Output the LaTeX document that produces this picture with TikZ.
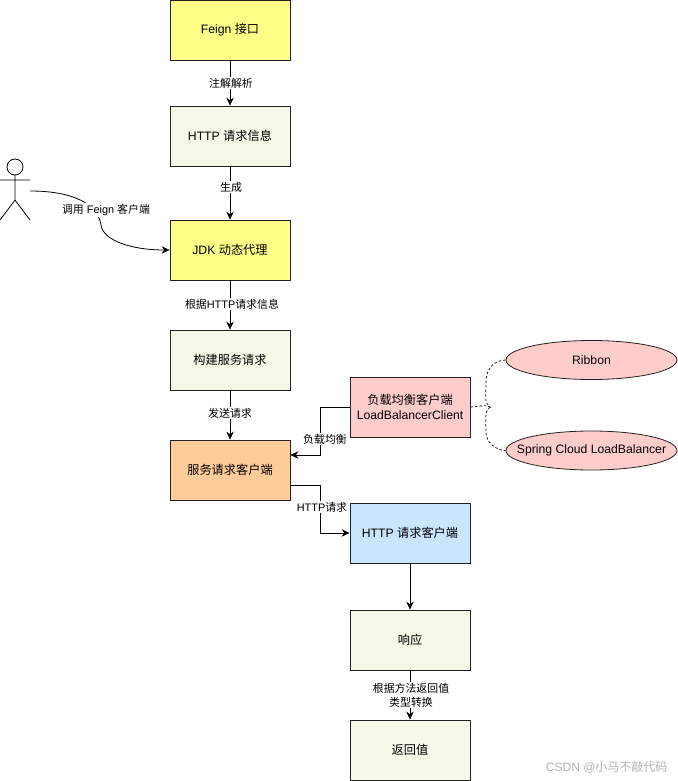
\documentclass[tikz,border=0pt]{standalone}
\usepackage{fontspec}
\setmainfont{Liberation Sans}
\newfontfamily\cjk{Noto Sans CJK SC}
\newcommand{\zh}[1]{{\cjk #1}}
\usetikzlibrary{arrows.meta,shapes.geometric}
\definecolor{boxyellow}{HTML}{FFFF88}
\definecolor{boxcream}{HTML}{F6F8E9}
\definecolor{boxpink}{HTML}{FFCCCC}
\definecolor{boxorange}{HTML}{FFCC99}
\definecolor{boxblue}{HTML}{CCE5FF}
\definecolor{linecol}{HTML}{222222}
\tikzset{
  x=1pt,y=-1pt,
  every node/.style={font=\fontsize{12.2}{15}\selectfont,text=black},
  flowbox/.style={draw=linecol,line width=0.8pt,minimum width=120pt,minimum height=60pt,inner sep=0pt,align=center},
  oval/.style={ellipse,draw=linecol,line width=0.8pt,fill=boxpink,minimum width=171pt,minimum height=39pt,inner sep=0pt},
  conn/.style={draw=black,line width=0.8pt,-{Stealth[length=8pt,width=7.5pt]}},
  dashlink/.style={draw=linecol,line width=0.8pt,dash pattern=on 2.5pt off 2pt},
  elabel/.style={fill=white,inner sep=1pt,font=\fontsize{10.9}{14}\selectfont,align=center},
}
\begin{document}
\begin{tikzpicture}
\useasboundingbox (0,0) rectangle (677,781);
\fill[white] (0,0) rectangle (677,781);
\node[flowbox,fill=boxyellow] (feign) at (230,30) {Feign \zh{接口}};
\node[flowbox,fill=boxcream] (info) at (230,136) {HTTP \zh{请求信息}};
\node[flowbox,fill=boxyellow] (jdk) at (230,250) {JDK \zh{动态代理}};
\node[flowbox,fill=boxcream] (build) at (230,360) {\zh{构建服务请求}};
\node[flowbox,fill=boxorange] (client) at (230,470) {\zh{服务请求客户端}};
\node[flowbox,fill=boxpink] (lb) at (410,407) {\zh{负载均衡客户端}\\LoadBalancerClient};
\node[flowbox,fill=boxblue] (http) at (410,533) {HTTP \zh{请求客户端}};
\node[flowbox,fill=boxcream] (resp) at (410,640) {\zh{响应}};
\node[flowbox,fill=boxcream] (ret) at (410,750) {\zh{返回值}};
\node[oval,label={center:Ribbon}] (ribbon) at (591.5,360) {};
\node[oval,label={center:Spring Cloud LoadBalancer}] (scl) at (591.5,450.5) {};
% actor
\coordinate (actor) at (30,191);
\coordinate (fork) at (490,407);
\draw[draw=black,line width=0.8pt] (15,167) circle (8);
\draw[draw=black,line width=0.8pt] (15,175) -- (15,200) (0,180) -- (30,180) (0,220) -- (15,200) -- (30,220);
% connectors
\draw[conn] (feign) -- (info);
\node[elabel] (l1) at (231,83) {\zh{注解解析}};
\draw[conn] (info) -- (jdk);
\node[elabel] (l2) at (231,187) {\zh{生成}};
\draw[conn] (jdk) -- (build);
\node[elabel] (l3) at (232,304) {\zh{根据}HTTP\zh{请求信息}};
\draw[conn] (build) -- (client);
\node[elabel] (l4) at (230,413) {\zh{发送请求}};
\draw[conn] (http) -- (resp);
\draw[conn] (resp) -- (ret);
\node[elabel] (l5) at (411,695) {\zh{根据方法返回值}\\\zh{类型转换}};
\draw[conn] (actor) .. controls (75,191) and (98,205) .. (101,225) .. controls (103,240) and (130,250) .. (jdk.west);
\node[elabel] (l6) at (106,210) {\zh{调用} Feign \zh{客户端}};
\draw[conn] (lb.west) -- (320,407) -- (320,455) -- (client.east |- 0,455);
\node[elabel] (l7) at (325,439) {\zh{负载均衡}};
\draw[conn] (client.east |- 0,485) -- (320,485) -- (320,533) -- (http.west);
\node[elabel] (l8) at (322,507) {HTTP\zh{请求}};
\draw[dashlink] (lb.east) .. controls (478,407) and (484,404) .. (fork) .. controls (484,402) and (486,396) .. (486,382) .. controls (486,368) and (495,360) .. (ribbon.west);
\draw[dashlink] (fork) .. controls (484,412) and (486,420) .. (486,432) .. controls (486,442) and (495,450) .. (scl.west);
\node[font=\fontsize{12}{15}\selectfont,text=black!30,anchor=east] (mark) at (671,767) {CSDN @\zh{小马不敲代码}};
\end{tikzpicture}
\end{document}
